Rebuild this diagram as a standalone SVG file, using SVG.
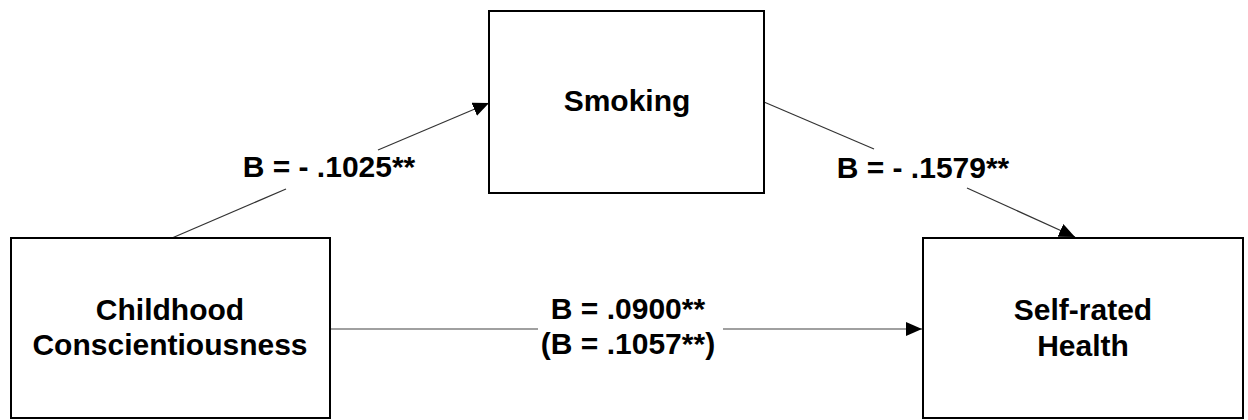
<svg xmlns="http://www.w3.org/2000/svg" width="1248" height="420" viewBox="0 0 1248 420">
<style>
.box{fill:#fff;stroke:#000;stroke-width:2}
.t{font-family:"Liberation Sans",Arial,sans-serif;font-weight:bold;font-size:30px;fill:#000;text-anchor:middle}
.d{stroke:#333;stroke-width:1.2;fill:none}
.h{stroke:#a0a0a0;stroke-width:2;fill:none}
</style>
<defs>
<marker id="arr" markerUnits="userSpaceOnUse" markerWidth="17" markerHeight="15" refX="16" refY="7" orient="auto">
<path d="M0,0 L16,7 L0,14 z" fill="#000"/>
</marker>
</defs>
<rect width="1248" height="420" fill="#fff"/>
<g id="connectors">
<line class="d" x1="172" y1="238" x2="286" y2="189"/>
<line class="d" x1="378" y1="150" x2="489" y2="103" marker-end="url(#arr)"/>
<text class="t" x="329" y="177">B = - .1025**</text>
<line class="d" x1="764" y1="102" x2="874" y2="149"/>
<line class="d" x1="967" y1="188" x2="1075" y2="237" marker-end="url(#arr)"/>
<text class="t" x="923" y="178">B = - .1579**</text>
<line class="h" x1="331" y1="329" x2="538" y2="329"/>
<line class="h" x1="723" y1="329" x2="922" y2="329" marker-end="url(#arr)"/>
<text class="t" x="628" y="319">B = .0900**</text>
<text class="t" x="628" y="354">(B = .1057**)</text>
</g>
<g id="childhood">
<rect class="box" x="11" y="238" width="319" height="180"/>
<text class="t" x="170" y="320">Childhood</text>
<text class="t" x="170" y="355">Conscientiousness</text>
</g>
<g id="smoking">
<rect class="box" x="489" y="11" width="275" height="182"/>
<text class="t" x="627" y="111">Smoking</text>
</g>
<g id="health">
<rect class="box" x="923" y="238" width="320" height="180"/>
<text class="t" x="1083" y="320">Self-rated</text>
<text class="t" x="1083" y="356">Health</text>
</g>
</svg>
